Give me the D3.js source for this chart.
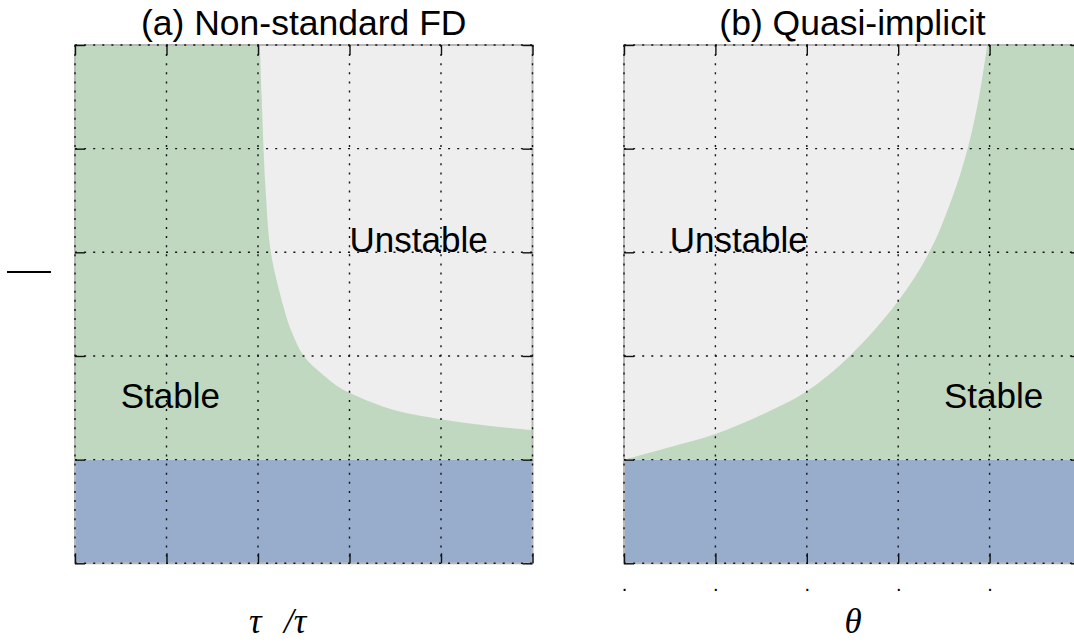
<!DOCTYPE html>
<html>
<head>
<meta charset="utf-8">
<script src="https://cdn.jsdelivr.net/npm/d3@7"></script>
<style>
  html, body { margin: 0; padding: 0; background: #ffffff; }
  svg { display: block; }
</style>
</head>
<body>
<svg id="chart" width="1074" height="644"></svg>
<script>
// ---------------- data ----------------
const gridTicks = [0, 1, 2, 3, 4, 5];
const panelTitles = ["(a) Non-standard FD", "(b) Quasi-implicit"];
const blueTop = 1;            // top of the blue band (both panels)
const axisMax = 5;

// (a) Non-standard FD: stability boundary (stable on the left / below)
const fdBoundaryX = [2.02, 2.04, 2.06, 2.09, 2.14, 2.28, 2.36, 2.50, 2.71, 2.90, 3.00, 3.44, 4.00, 4.54, 5.00];
const fdBoundaryY = [5.00, 4.50, 4.00, 3.50, 3.00, 2.47, 2.25, 2.00, 1.82, 1.69, 1.645, 1.49, 1.389, 1.325, 1.283];

// (b) Quasi-implicit: stability boundary (stable on the right / below)
const qiBoundaryX = [0.00, 0.50, 1.00, 1.50, 2.00, 2.47, 3.00, 3.34, 3.58, 3.76, 3.885, 3.975];
const qiBoundaryY = [1.00, 1.12, 1.247, 1.43, 1.66, 2.00, 2.53, 3.00, 3.50, 4.00, 4.50, 5.00];

// region labels: [text, x, y] (left-anchored at baseline)
const fdLabels = [["Unstable", 3.0, 3.0], ["Stable", 0.5, 1.5]];
const qiLabels = [["Unstable", 0.5, 3.0], ["Stable", 3.5, 1.5]];

// tick labels of panel (b) x axis (only the dots remain visible); last one lies off the page
const xTickLabelsB = [".", ".", ".", ".", ".", ""];

// ---------------- styles ----------------
const C_GREEN = "#bfd8bf";
const C_GRAY = "#eeeeee";
const C_BLUE = "#98adcb";
const FONT = "'Liberation Sans', Arial, Helvetica, sans-serif";
const SERIF = "'Liberation Serif', 'DejaVu Serif', serif";

const svg = d3.select("#chart");

const plotTop = 45, plotBottom = 563.3;
const panels = [
  { left: 75, right: 532.5, bx: fdBoundaryX, by: fdBoundaryY, labels: fdLabels, title: panelTitles[0], kind: "fd" },
  { left: 624, right: 1081, bx: qiBoundaryX, by: qiBoundaryY, labels: qiLabels, title: panelTitles[1], kind: "qi" }
];

panels.forEach((p, i) => {
  const x = d3.scaleLinear().domain([0, axisMax]).range([p.left, p.right]);
  const y = d3.scaleLinear().domain([0, axisMax]).range([plotBottom, plotTop]);
  const g = svg.append("g");

  // unstable background
  g.append("rect")
    .attr("x", x(0)).attr("y", y(axisMax))
    .attr("width", x(axisMax) - x(0)).attr("height", y(blueTop) - y(axisMax))
    .attr("fill", C_GRAY);

  // blue band
  g.append("rect")
    .attr("x", x(0)).attr("y", y(blueTop))
    .attr("width", x(axisMax) - x(0)).attr("height", y(0) - y(blueTop))
    .attr("fill", C_BLUE);

  // stable region
  const pts = p.bx.map((v, k) => [v, p.by[k]]);
  const boundary = d3.line().x(d => x(d[0])).y(d => y(d[1]))
    .curve(d3.curveCatmullRom.alpha(0.5))(pts);
  let path;
  if (p.kind === "fd") {
    path = `M${x(0)},${y(axisMax)}L` + boundary.slice(1) +
      `L${x(axisMax)},${y(blueTop)}L${x(0)},${y(blueTop)}Z`;
  } else {
    path = boundary + `L${x(axisMax)},${y(axisMax)}L${x(axisMax)},${y(blueTop)}L${x(0)},${y(blueTop)}Z`;
  }
  g.append("path").attr("d", path).attr("fill", C_GREEN);

  // spine
  g.append("rect")
    .attr("x", x(0)).attr("y", y(axisMax))
    .attr("width", x(axisMax) - x(0)).attr("height", y(0) - y(axisMax))
    .attr("fill", "none").attr("stroke", "#b8b8b8").attr("stroke-width", 2);

  // dotted grid
  const grid = g.append("g").attr("stroke", "#111").attr("stroke-width", 1.4)
    .attr("stroke-dasharray", "2,7.1");
  grid.selectAll("line.v").data(gridTicks).join("line").attr("class", "v")
    .attr("x1", d => x(d)).attr("x2", d => x(d))
    .attr("y1", y(axisMax)).attr("y2", y(0));
  grid.selectAll("line.h").data(gridTicks).join("line").attr("class", "h")
    .attr("y1", d => y(d)).attr("y2", d => y(d))
    .attr("x1", x(0)).attr("x2", x(axisMax));

  // inward ticks on all sides
  const tk = 10;
  const axB = d3.axisBottom(x).tickValues(gridTicks).tickSize(-tk).tickPadding(14)
    .tickFormat((d, k) => p.kind === "qi" ? xTickLabelsB[k] : "");
  const axT = d3.axisTop(x).tickValues(gridTicks).tickSize(-tk).tickFormat("");
  const axL = d3.axisLeft(y).tickValues(gridTicks).tickSize(-tk).tickFormat("");
  const axR = d3.axisRight(y).tickValues(gridTicks).tickSize(-tk).tickFormat("");
  const styleAxis = sel => {
    sel.select(".domain").remove();
    sel.selectAll(".tick line").attr("stroke", "#111").attr("stroke-width", 1.4);
    sel.selectAll("text").attr("font-family", FONT).attr("font-size", 20).attr("fill", "#000");
  };
  g.append("g").attr("transform", `translate(0,${y(0)})`).call(axB).call(styleAxis);
  g.append("g").attr("transform", `translate(0,${y(axisMax)})`).call(axT).call(styleAxis);
  g.append("g").attr("transform", `translate(${x(0)},0)`).call(axL).call(styleAxis);
  g.append("g").attr("transform", `translate(${x(axisMax)},0)`).call(axR).call(styleAxis);

  // region labels
  g.selectAll("text.region").data(p.labels).join("text").attr("class", "region")
    .attr("x", d => x(d[1])).attr("y", d => y(d[2]))
    .attr("font-family", FONT).attr("font-size", 35).attr("fill", "#000")
    .text(d => d[0]);

  // title
  g.append("text")
    .attr("x", (x(0) + x(axisMax)) / 2).attr("y", 35)
    .attr("text-anchor", "middle")
    .attr("font-family", FONT).attr("font-size", 35.5).attr("fill", "#000")
    .text(p.title);
});

// y-axis label of panel (a): fraction bar only
svg.append("line").attr("x1", 7).attr("x2", 51).attr("y1", 272).attr("y2", 272)
  .attr("stroke", "#000").attr("stroke-width", 2);

// x-axis labels
const xl = svg.append("text").attr("y", 633)
  .attr("font-family", SERIF).attr("font-style", "italic").attr("font-size", 35).attr("fill", "#000");
xl.append("tspan").attr("x", 249).text("τ");
xl.append("tspan").attr("x", 284).text("/τ");

svg.append("text").attr("x", 853).attr("y", 633).attr("text-anchor", "middle")
  .attr("font-family", SERIF).attr("font-style", "italic").attr("font-size", 35).attr("fill", "#000")
  .text("θ");
</script>
</body>
</html>
